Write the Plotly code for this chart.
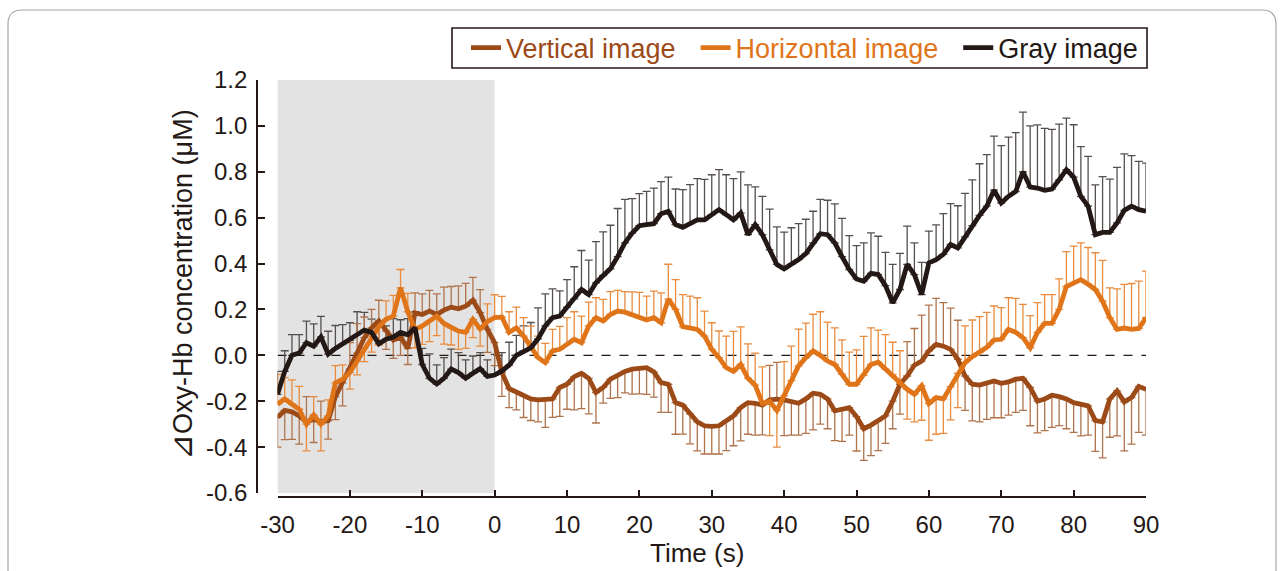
import plotly.graph_objects as go

# ---------------- data ----------------
time_s = list(range(-30, 91))

vertical = [
    -0.27, -0.24, -0.246, -0.264, -0.29, -0.28, -0.29, -0.285, -0.18, -0.12,
    -0.06, 0.01, 0.077, 0.12, 0.15, 0.106, 0.067, 0.08, 0.03, 0.185,
    0.178, 0.193, 0.178, 0.197, 0.21, 0.203, 0.214, 0.24, 0.186, 0.113,
    0.055, -0.075, -0.145, -0.16, -0.177, -0.19, -0.194, -0.194, -0.19, -0.14,
    -0.126, -0.093, -0.078, -0.10, -0.162, -0.14, -0.104, -0.087, -0.07, -0.06,
    -0.058, -0.054, -0.072, -0.119, -0.126, -0.206, -0.217, -0.256, -0.29, -0.307,
    -0.31, -0.307, -0.285, -0.264, -0.228, -0.206, -0.209, -0.217, -0.194, -0.191,
    -0.194, -0.203, -0.209, -0.19, -0.165, -0.17, -0.19, -0.242, -0.235, -0.228,
    -0.267, -0.32, -0.304, -0.285, -0.264, -0.2, -0.126, -0.09, -0.043, -0.025,
    0.019, 0.048, 0.04, 0.026, -0.017, -0.09, -0.126, -0.13, -0.119, -0.112,
    -0.122, -0.116, -0.104, -0.10, -0.14, -0.2, -0.19, -0.174, -0.18, -0.19,
    -0.206, -0.213, -0.22, -0.284, -0.29, -0.19, -0.155, -0.203, -0.184, -0.136,
    -0.148,
]
vertical_err = [
    0.13, 0.127, 0.12, 0.123, 0.11, 0.10, 0.09, 0.08, 0.10, 0.10,
    0.116, 0.128, 0.09, 0.08, 0.09, 0.08, 0.08, 0.08, 0.07, 0.087,
    0.09, 0.09, 0.09, 0.10, 0.09, 0.10, 0.10, 0.10, 0.10, 0.10,
    0.10, 0.104, 0.083, 0.078, 0.094, 0.094, 0.096, 0.12, 0.08, 0.126,
    0.109, 0.145, 0.154, 0.155, 0.133, 0.068, 0.084, 0.097, 0.094, 0.109,
    0.11, 0.116, 0.11, 0.13, 0.123, 0.138, 0.126, 0.13, 0.126, 0.123,
    0.12, 0.123, 0.13, 0.13, 0.145, 0.138, 0.139, 0.13, 0.15, 0.16,
    0.156, 0.145, 0.139, 0.15, 0.16, 0.13, 0.13, 0.13, 0.14, 0.12,
    0.15, 0.138, 0.133, 0.13, 0.12, 0.12, 0.13, 0.15, 0.16, 0.20,
    0.20, 0.20, 0.19, 0.18, 0.17, 0.15, 0.16, 0.16, 0.16, 0.16,
    0.15, 0.145, 0.145, 0.14, 0.167, 0.138, 0.138, 0.14, 0.126, 0.13,
    0.13, 0.138, 0.128, 0.135, 0.157, 0.167, 0.196, 0.213, 0.203, 0.20,
    0.20,
]

horizontal = [
    -0.213, -0.19, -0.213, -0.235, -0.30, -0.26, -0.30, -0.264, -0.12, -0.104,
    -0.075, -0.025, 0.033, 0.084, 0.125, 0.157, 0.171, 0.294, 0.19, 0.113,
    0.128, 0.15, 0.171, 0.139, 0.12, 0.106, 0.10, 0.157, 0.115, 0.147,
    0.164, 0.167, 0.10, 0.12, 0.084, 0.04, -0.01, -0.032, 0.019, 0.026,
    0.048, 0.07, 0.055, 0.128, 0.164, 0.15, 0.178, 0.193, 0.188, 0.177,
    0.164, 0.154, 0.164, 0.142, 0.245, 0.20, 0.125, 0.12, 0.113, 0.084,
    0.026, -0.01, -0.054, -0.07, -0.04, -0.10, -0.13, -0.21, -0.20, -0.24,
    -0.177, -0.11, -0.046, -0.01, 0.019, 0.0, -0.025, -0.04, -0.083, -0.126,
    -0.126, -0.087, -0.04, -0.03, -0.06, -0.083, -0.12, -0.148, -0.17, -0.133,
    -0.21, -0.184, -0.19, -0.136, -0.078, -0.032, -0.006, 0.012, 0.035, 0.067,
    0.07, 0.113, 0.10, 0.077, 0.033, 0.10, 0.139, 0.139, 0.20, 0.30,
    0.316, 0.33, 0.31, 0.287, 0.236, 0.164, 0.113, 0.119, 0.113, 0.117,
    0.164,
]
horizontal_err = [
    0.13, 0.093, 0.106, 0.10, 0.116, 0.08, 0.116, 0.07, 0.075, 0.062,
    0.072, 0.06, 0.06, 0.07, 0.08, 0.08, 0.09, 0.08, 0.08, 0.08,
    0.08, 0.09, 0.085, 0.09, 0.075, 0.08, 0.07, 0.08, 0.075, 0.077,
    0.10, 0.09, 0.09, 0.09, 0.08, 0.087, 0.094, 0.084, 0.094, 0.10,
    0.116, 0.12, 0.116, 0.104, 0.087, 0.094, 0.10, 0.09, 0.09, 0.10,
    0.11, 0.104, 0.116, 0.13, 0.152, 0.13, 0.14, 0.138, 0.138, 0.109,
    0.116, 0.116, 0.138, 0.174, 0.164, 0.15, 0.14, 0.16, 0.15, 0.16,
    0.15, 0.15, 0.16, 0.15, 0.16, 0.19, 0.17, 0.16, 0.15, 0.14,
    0.15, 0.17, 0.16, 0.14, 0.15, 0.14, 0.14, 0.13, 0.12, 0.15,
    0.16, 0.16, 0.15, 0.145, 0.15, 0.16, 0.16, 0.157, 0.152, 0.148,
    0.138, 0.138, 0.148, 0.145, 0.14, 0.13, 0.126, 0.126, 0.133, 0.152,
    0.16, 0.16, 0.16, 0.16, 0.178, 0.13, 0.177, 0.19, 0.20, 0.206,
    0.203,
]

gray = [
    -0.17, -0.07, 0.0, 0.01, 0.055, 0.04, 0.08, 0.005, 0.03, 0.05,
    0.065, 0.09, 0.11, 0.10, 0.05, 0.07, 0.08, 0.10, 0.09, 0.12,
    -0.04, -0.10, -0.125, -0.10, -0.06, -0.075, -0.10, -0.078, -0.058, -0.092,
    -0.086, -0.068, -0.043, 0.0, 0.019, 0.033, 0.072, 0.128, 0.164, 0.171,
    0.21, 0.246, 0.287, 0.265, 0.316, 0.348, 0.377, 0.43, 0.49, 0.533,
    0.565, 0.57, 0.574, 0.617, 0.627, 0.57, 0.558, 0.574, 0.59, 0.59,
    0.613, 0.635, 0.613, 0.59, 0.62, 0.526, 0.57, 0.526, 0.46, 0.396,
    0.377, 0.396, 0.417, 0.443, 0.49, 0.53, 0.526, 0.49, 0.43, 0.374,
    0.333, 0.323, 0.357, 0.352, 0.304, 0.229, 0.287, 0.396, 0.352, 0.265,
    0.403, 0.417, 0.44, 0.483, 0.468, 0.516, 0.565, 0.61, 0.65, 0.72,
    0.664, 0.693, 0.714, 0.80, 0.733, 0.729, 0.719, 0.725, 0.765, 0.809,
    0.777, 0.693, 0.65, 0.526, 0.536, 0.536, 0.577, 0.632, 0.65, 0.635,
    0.628,
]
gray_err = [
    0.10, 0.09, 0.09, 0.08, 0.094, 0.097, 0.09, 0.10, 0.10, 0.084,
    0.077, 0.10, 0.077, 0.058, 0.097, 0.058, 0.08, 0.055, 0.07, 0.07,
    0.07, 0.106, 0.083, 0.09, 0.087, 0.087, 0.08, 0.075, 0.07, 0.072,
    0.09, 0.08, 0.10, 0.087, 0.109, 0.11, 0.135, 0.14, 0.126, 0.11,
    0.12, 0.14, 0.17, 0.15, 0.18, 0.19, 0.19, 0.21, 0.19, 0.15,
    0.14, 0.145, 0.155, 0.14, 0.15, 0.155, 0.164, 0.17, 0.18, 0.177,
    0.174, 0.174, 0.174, 0.18, 0.18, 0.217, 0.164, 0.167, 0.177, 0.164,
    0.16, 0.16, 0.157, 0.15, 0.138, 0.15, 0.15, 0.17, 0.167, 0.148,
    0.145, 0.167, 0.177, 0.167, 0.145, 0.167, 0.157, 0.167, 0.138, 0.14,
    0.138, 0.152, 0.178, 0.178, 0.184, 0.19, 0.20, 0.225, 0.225, 0.235,
    0.25, 0.258, 0.257, 0.26, 0.267, 0.275, 0.27, 0.26, 0.243, 0.225,
    0.228, 0.217, 0.217, 0.217, 0.243, 0.232, 0.242, 0.246, 0.22, 0.21,
    0.21,
]

x_ticks = [-30, -20, -10, 0, 10, 20, 30, 40, 50, 60, 70, 80, 90]
x_tick_text = ["-30", "-20", "-10", "0", "10", "20", "30", "40", "50", "60", "70", "80", "90"]
y_ticks = [-0.6, -0.4, -0.2, 0.0, 0.2, 0.4, 0.6, 0.8, 1.0, 1.2]
y_tick_text = ["-0.6", "-0.4", "-0.2", "0.0", "0.2", "0.4", "0.6", "0.8", "1.0", "1.2"]
stim_window = [-30, 0]

series_names = ["Vertical image", "Horizontal image", "Gray image"]

# ---------------- styling ----------------
W, H = 1284, 571
ML, MR, MT, MB = 200, 124, 80, 74
PW, PH = W - ML - MR, H - MT - MB
FONT = "Liberation Sans, Arial, Helvetica, sans-serif"
INK = "#231815"
C_V, C_H, C_G = "#9C4A17", "#E07418", "#231815"
E_V, E_H, E_G = "#B0744C", "#E98C3E", "#55504E"
NB = "\u00a0"


def px_x(p):
    return (p - ML) / PW


def px_y(p):
    return (H - MB - p) / PH


# error bar direction: the upper of the two image curves points up, the lower down
v_up = [e if v >= h else 0 for v, h, e in zip(vertical, horizontal, vertical_err)]
v_dn = [0 if v >= h else e for v, h, e in zip(vertical, horizontal, vertical_err)]
h_up = [e if h > v else 0 for v, h, e in zip(vertical, horizontal, horizontal_err)]
h_dn = [0 if h > v else e for v, h, e in zip(vertical, horizontal, horizontal_err)]
g_dn = [0 for _ in gray_err]

fig = go.Figure()


def err_trace(y, up, dn, color):
    return go.Scatter(
        x=time_s, y=y, mode="markers",
        marker=dict(size=2, opacity=0),
        error_y=dict(type="data", symmetric=False, array=up, arrayminus=dn,
                     color=color, thickness=1.3, width=4),
        showlegend=False, hoverinfo="skip",
    )


fig.add_trace(err_trace(gray, gray_err, g_dn, E_G))
fig.add_trace(err_trace(vertical, v_up, v_dn, E_V))
fig.add_trace(err_trace(horizontal, h_up, h_dn, E_H))

pads = [NB * 2, NB * 2, ""]
for (name, y, c), pad in zip([(series_names[0], vertical, C_V),
                              (series_names[1], horizontal, C_H),
                              (series_names[2], gray, C_G)], pads):
    fig.add_trace(go.Scatter(
        x=time_s, y=y, mode="lines",
        line=dict(color=c, width=4.8),
        name=f"<span style='color:{c}'>{name}</span>{pad}",
    ))

# shaded stimulus window and dashed zero line
fig.add_shape(type="rect", xref="x", yref="y",
              x0=stim_window[0], x1=stim_window[1], y0=y_ticks[0], y1=y_ticks[-1],
              fillcolor="#E3E3E3", line=dict(width=0), layer="below")
fig.add_shape(type="line", xref="x", yref="y",
              x0=x_ticks[0], x1=x_ticks[-1], y0=0, y1=0,
              line=dict(color=INK, width=1.2, dash="dash"), layer="below")

# legend box
fig.add_shape(type="rect", xref="paper", yref="paper",
              x0=px_x(452), x1=px_x(1147), y0=px_y(68), y1=px_y(28),
              line=dict(color=INK, width=1.6), fillcolor="rgba(0,0,0,0)")

# outer rounded frame
x0f, x1f = px_x(8), px_x(1276)
ytf, ybf = px_y(10), px_y(600)
rx, ry = 14 / PW, 14 / PH
frame = (f"M {x0f},{ybf} L {x0f},{ytf - ry} Q {x0f},{ytf} {x0f + rx},{ytf} "
         f"L {x1f - rx},{ytf} Q {x1f},{ytf} {x1f},{ytf - ry} L {x1f},{ybf}")
fig.add_shape(type="path", xref="paper", yref="paper", path=frame,
              line=dict(color="#A8A8A8", width=1.2))

axis_common = dict(showline=True, linecolor=INK, linewidth=1.6,
                   ticks="inside", tickcolor=INK, tickwidth=1.6,
                   showgrid=False, zeroline=False,
                   tickfont=dict(family=FONT, size=24, color=INK))

fig.update_layout(
    width=W, height=H,
    margin=dict(l=ML, r=MR, t=MT, b=MB, pad=0),
    paper_bgcolor="white", plot_bgcolor="white",
    font=dict(family=FONT, color=INK),
    xaxis=dict(range=[x_ticks[0], x_ticks[-1]], tickvals=x_ticks, ticktext=x_tick_text,
               domain=[px_x(277.5), px_x(1146)], anchor="free", position=0,
               ticklen=6, ticklabelstandoff=6, **axis_common),
    yaxis=dict(range=[y_ticks[0], y_ticks[-1]], tickvals=y_ticks, ticktext=y_tick_text,
               domain=[px_y(493), 1], anchor="free", position=px_x(257),
               ticklen=7, ticklabelstandoff=4, **axis_common),
    legend=dict(orientation="h", x=px_x(1143), xanchor="right",
                y=px_y(48), yanchor="middle",
                borderwidth=0, bgcolor="rgba(0,0,0,0)",
                font=dict(family=FONT, size=27), itemwidth=30,
                traceorder="normal"),
    annotations=[
        dict(text="Time (s)", xref="paper", yref="paper",
             x=px_x(697), y=px_y(553), xanchor="center", yanchor="middle",
             showarrow=False, font=dict(family=FONT, size=26, color=INK)),
        dict(text="<span style='font-family:DejaVu Sans;font-size:31px'>⊿</span>Oxy-Hb concentration (μM)",
             xref="paper", yref="paper",
             x=px_x(181), y=px_y(285), xanchor="center", yanchor="middle",
             textangle=-90, showarrow=False,
             font=dict(family=FONT, size=27, color=INK)),
    ],
)

fig.write_html("out.html", config={"displayModeBar": False},
               post_script="document.body.style.margin='0px';")
